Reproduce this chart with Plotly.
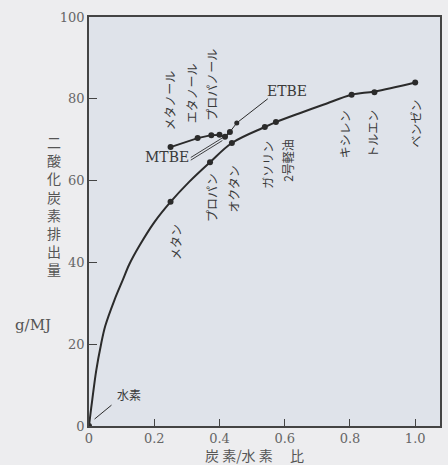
import plotly.graph_objects as go

# ---- data ----
# main hydrocarbon curve (C/H ratio vs CO2 g/MJ)
curve_x = [0.0, 0.005, 0.010, 0.022, 0.037, 0.050, 0.078, 0.103, 0.124, 0.154, 0.200, 0.250,
           0.307, 0.371, 0.438, 0.539, 0.573, 0.650, 0.720, 0.805, 0.875, 1.0]
curve_y = [0.0, 3.3, 6.4, 13.5, 20.0, 24.5, 30.8, 35.6, 39.6, 44.0, 49.8, 54.8,
           59.7, 64.5, 69.2, 73.1, 74.3, 76.6, 78.6, 81.0, 81.8, 84.0]

fuel_names = ["水素", "メタン", "プロパン", "オクタン", "ガソリン", "2号軽油", "キシレン", "トルエン", "ベンゼン"]
fuel_x = [0.0, 0.25, 0.371, 0.438, 0.539, 0.573, 0.805, 0.875, 1.0]
fuel_y = [0.0, 54.8, 64.5, 69.2, 73.1, 74.3, 81.0, 81.6, 84.0]

# oxygenates
oxy_names = ["メタノール", "エタノール", "プロパノール", "", "MTBE", "ETBE"]
oxy_x = [0.25, 0.333, 0.375, 0.40, 0.417, 0.432]
oxy_y = [68.2, 70.4, 71.1, 71.2, 70.7, 71.9]

etbe_lead_x = [0.432, 0.453, 0.548]
etbe_lead_y = [71.9, 74.1, 80.0]

x_ticks = [0, 0.2, 0.4, 0.6, 0.8, 1.0]
x_tick_text = ["0", "0.2", "0.4", "0.6", "0.8", "1.0"]
y_ticks = [0, 20, 40, 60, 80, 100]

# ---- label placement (layout) ----
vert_labels = [
    ("メタン", 0.267, 45.0),
    ("プロパン", 0.377, 56.0),
    ("オクタン", 0.444, 58.0),
    ("ガソリン", 0.545, 63.8),
    ("2号軽油", 0.606, 65.0),
    ("キシレン", 0.786, 71.4),
    ("トルエン", 0.869, 71.6),
    ("ベンゼン", 1.0, 74.0),
    ("メタノール", 0.246, 79.7),
    ("エタノール", 0.313, 81.4),
    ("プロパノール", 0.377, 83.4),
]

ink = "#2b2b2b"
txt = "#3a3a3a"
jp = "Noto Sans CJK JP"
serif = "DejaVu Serif"

fig = go.Figure()

fig.add_trace(go.Scatter(x=curve_x, y=curve_y, mode="lines",
                         line=dict(color=ink, width=2, shape="spline", smoothing=1.0),
                         hoverinfo="skip", showlegend=False))
fig.add_trace(go.Scatter(x=fuel_x, y=fuel_y, mode="markers", text=fuel_names,
                         marker=dict(color=ink, size=6), showlegend=False))
fig.add_trace(go.Scatter(x=oxy_x, y=oxy_y, mode="lines+markers", text=oxy_names,
                         line=dict(color=ink, width=1.8),
                         marker=dict(color=ink, size=6), showlegend=False))
fig.add_trace(go.Scatter(x=etbe_lead_x, y=etbe_lead_y, mode="lines",
                         line=dict(color=ink, width=1), hoverinfo="skip", showlegend=False))
fig.add_trace(go.Scatter(x=[etbe_lead_x[1]], y=[etbe_lead_y[1]], mode="markers",
                         marker=dict(color=ink, size=5), hoverinfo="skip", showlegend=False))

# MTBE double leader
for dy in (0.0, 0.65):
    fig.add_trace(go.Scatter(x=[0.312, 0.409], y=[65.0 + dy, 69.8 + dy], mode="lines",
                             line=dict(color=ink, width=0.9), hoverinfo="skip", showlegend=False))
# hydrogen leader
fig.add_trace(go.Scatter(x=[0.017, 0.069], y=[1.7, 5.1], mode="lines",
                         line=dict(color=ink, width=1), hoverinfo="skip", showlegend=False))

ann = []
for t, x, y in vert_labels:
    ann.append(dict(x=x, y=y, text=t, showarrow=False, textangle=-90,
                    font=dict(family=jp, size=12, color=txt)))
ann.append(dict(x=0.606, y=81.8, text="ETBE", showarrow=False,
                font=dict(family=serif, size=14, color=txt)))
ann.append(dict(x=0.24, y=65.8, text="MTBE", showarrow=False,
                font=dict(family=serif, size=14, color=txt)))
ann.append(dict(x=0.124, y=7.8, text="水素", showarrow=False,
                font=dict(family=jp, size=12, color=txt)))
ann.append(dict(xref="paper", yref="paper", x=-0.10, y=0.54, xanchor="center", yanchor="middle",
                text="<br>".join(list("二酸化炭素排出量")), showarrow=False,
                font=dict(family=jp, size=14, color="#555")))
ann.append(dict(xref="paper", yref="paper", x=-0.16, y=0.247, xanchor="center", yanchor="middle",
                text="g/MJ", showarrow=False,
                font=dict(family=serif, size=15, color="#555")))
ann.append(dict(xref="paper", yref="paper", x=0.472, y=-0.071, xanchor="center", yanchor="middle",
                text="炭 素/水 素　 比",
                showarrow=False, font=dict(family=jp, size=14, color="#555")))

fig.update_layout(
    width=448, height=465,
    margin=dict(l=89, r=6, t=17, b=39),
    paper_bgcolor="#ededef", plot_bgcolor="#dfe3ea",
    annotations=ann,
    xaxis=dict(range=[0, 1.076], tickvals=x_ticks, ticktext=x_tick_text,
               showgrid=False, zeroline=False, showline=True, linecolor="#444", linewidth=1.5,
               mirror=True, ticks="inside", ticklen=7, tickcolor="#444",
               tickfont=dict(family=serif, size=13, color="#666")),
    yaxis=dict(range=[0, 100], tickvals=y_ticks,
               showgrid=False, zeroline=False, showline=True, linecolor="#444", linewidth=1.5,
               mirror=True, ticks="inside", ticklen=8, tickcolor="#444",
               tickfont=dict(family=serif, size=13, color="#666")),
)

fig.write_html("out.html", config={"displayModeBar": False},
               post_script="document.body.style.margin='0';document.body.style.background='#ededef';")
